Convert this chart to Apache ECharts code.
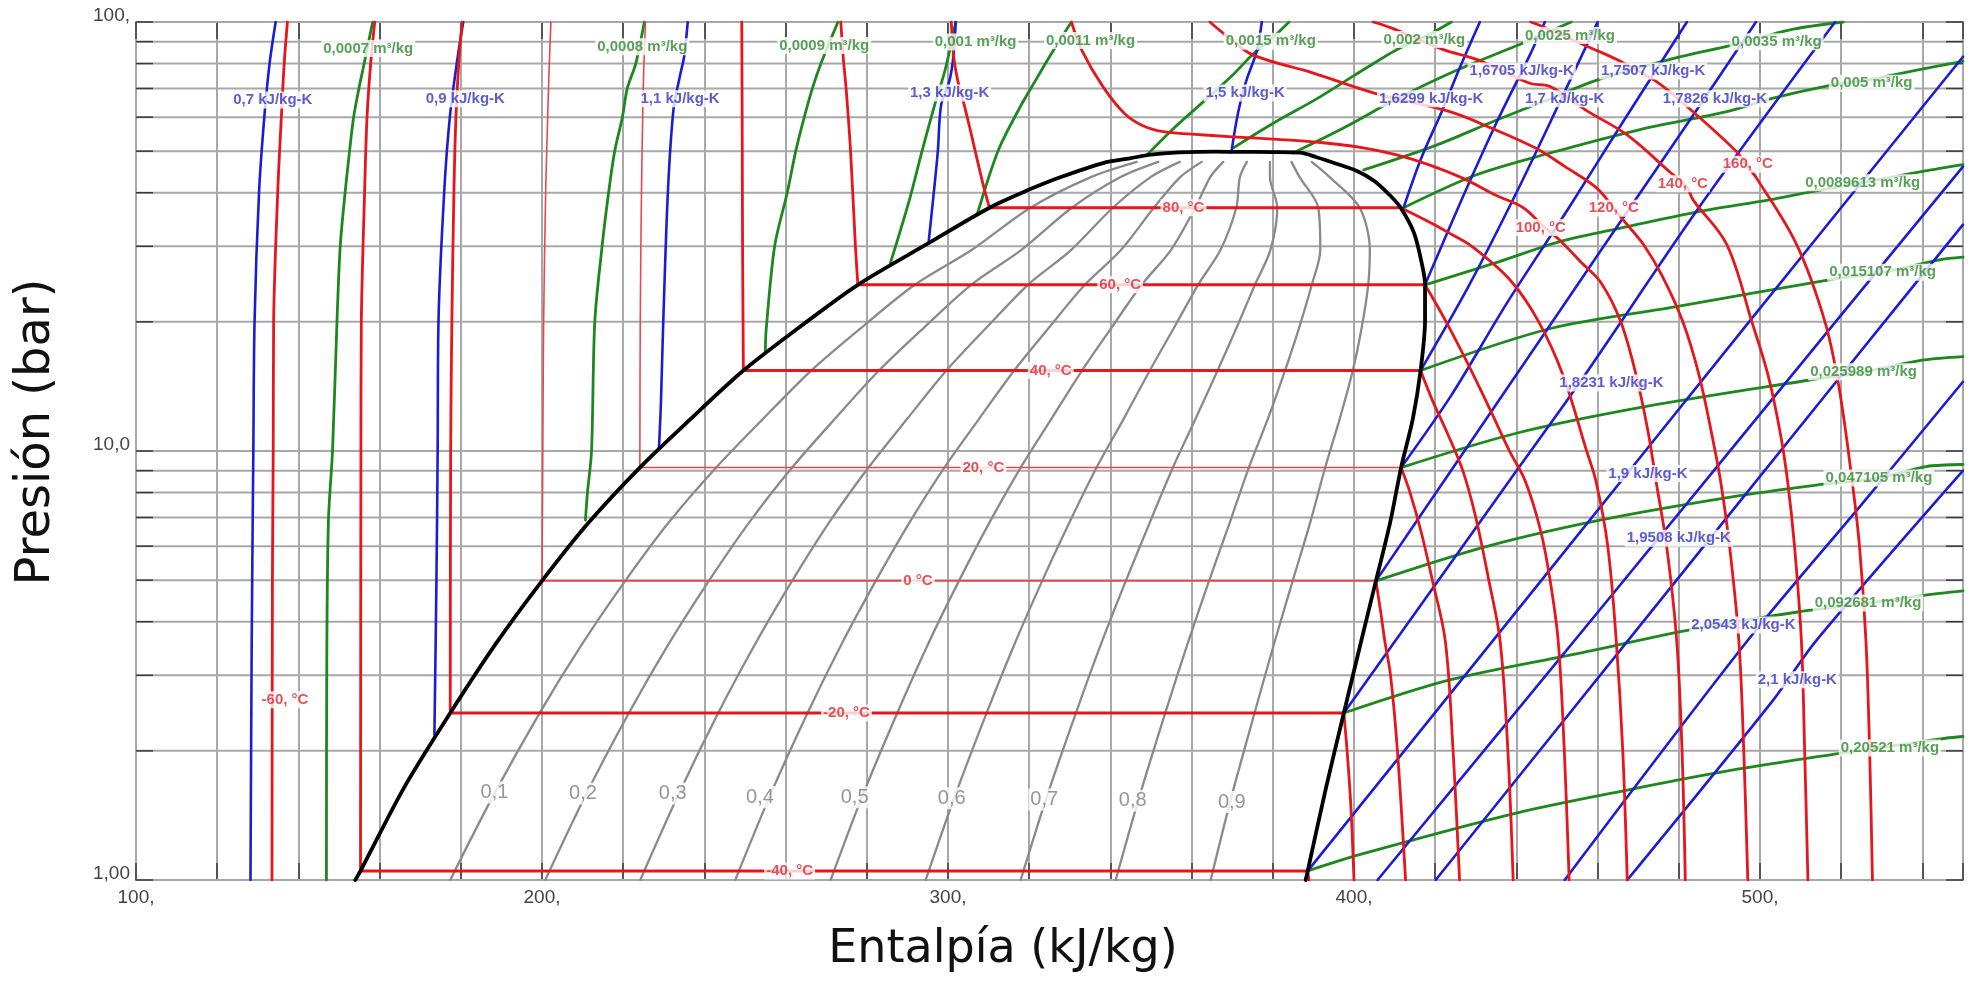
<!DOCTYPE html>
<html>
<head>
<meta charset="utf-8">
<script src="https://cdn.jsdelivr.net/npm/echarts/dist/echarts.min.js"></script>
<style>
html,body{margin:0;padding:0;background:#fff}
#chart{width:1975px;height:981px}
</style>
</head>
<body>
<div id="chart"></div>
<script>
// Pressure–enthalpy diagram of R22: h in kJ/kg, p in bar (log scale)

// axis ticks
const hMin = 100, hMax = 550, hStep = 20;
const pMajor = [1, 10, 100];
const pMajorText = ['1,00', '10,0', '100,'];
const pGrid = [1, 2, 3, 4, 5, 6, 7, 8, 9, 10, 20, 30, 40, 50, 60, 70, 80, 90, 100];

// saturation dome [h, p]
const satLiquid = [[154.0,1.0],[155.3,1.05],[166.0,1.64],[177.4,2.45],[188.6,3.55],[200.0,4.98],[211.5,6.81],[224.1,9.15],[236.7,11.9],[249.6,15.4],[263.3,19.4],[277.8,24.4],[295.2,30.5],[310.2,36.9],[319.0,40.3],[327.8,43.5],[338.2,46.9],[344.8,48.1],[350.0,49.1],[356.0,49.6],[362.0,49.8],[366.0,49.85]];
const satVapor = [[366.0,49.85],[372.0,49.8],[380.0,49.75],[386.7,49.6],[390.8,48.4],[395.5,46.8],[400.6,45.0],[405.0,42.6],[408.9,39.4],[411.5,36.9],[414.8,32.2],[416.9,26.8],[417.5,24.4],[417.5,20.2],[416.4,15.4],[414.5,11.9],[411.6,9.15],[408.9,6.81],[405.4,4.98],[401.6,3.55],[397.5,2.45],[393.1,1.64],[388.6,1.05],[388.1,1.0]];

// isotherms: compressed-liquid branch (top down to saturated liquid)
const isothermLiquid = [
  ['-60', [[137.3,100],[136.5,80],[135.8,60],[134.9,40],[133.9,20],[133.8,10],[133.6,5],[133.5,1]]],
  ['-40', [[158.8,100],[157.8,80],[156.9,60],[156.3,40],[155.5,20],[155.4,10],[155.3,1.05]]],
  ['-20', [[180.3,100],[179.5,80],[178.8,60],[178.3,40],[177.8,20],[177.5,10],[177.4,2.45]]],
  ['0',   [[202.2,100],[201.8,80],[201.4,60],[200.9,40],[200.4,20],[200.2,10],[200.0,4.98]]],
  ['20',  [[225.5,100],[225.1,80],[224.8,60],[224.5,40],[224.2,20],[224.1,9.15]]],
  ['40',  [[249.2,100],[249.3,60],[249.4,30],[249.6,15.4]]],
  ['60',  [[273.6,100],[274.2,82.5],[274.9,70],[276.0,50],[277.2,30],[277.8,24.4]]],
  ['80',  [[300.8,100],[301.4,83],[302.4,73],[304.0,64],[305.3,57],[306.7,50],[308.6,42],[310.2,36.9]]]
];
// isotherms: two-phase plateau [T, p, h liquid, h vapour]
const isothermSat = [['-40',1.05,155.3,388.6],['-20',2.45,177.4,397.5],['0',4.98,200.0,405.4],['20',9.15,224.1,411.6],['40',15.4,249.6,416.4],['60',24.4,277.8,417.5],['80',36.9,310.2,411.5]];
// isotherms: superheated / supercritical branch
const isothermVapor = [
  ['-40', [[388.6,1.05],[388.9,1.0]]],
  ['-20', [[397.5,2.45],[398.3,2.0],[399.2,1.5],[400.0,1.0]]],
  ['0',   [[405.4,4.98],[406.6,4.2],[407.6,3.6],[409.0,3.0],[410.7,2.0],[412.7,1.0]]],
  ['20',  [[411.6,9.15],[413.8,8.0],[416.5,6.5],[419.3,5.0],[422.5,3.6],[424.4,2.0],[426.0,1.0]]],
  ['40',  [[416.4,15.4],[419.5,13],[423.0,11],[426.8,9],[430.0,7],[433.2,5],[436.0,3.6],[437.9,2],[439.2,1]]],
  ['60',  [[417.5,24.4],[422.7,20],[428.0,16],[433.5,12.5],[438.3,10],[442.2,8.5],[446.0,6.5],[448.3,5],[450.3,3.6],[451.8,2],[453.0,1]]],
  ['80',  [[411.5,36.9],[419.0,34],[424.0,32],[429.0,30],[438.5,25],[445.5,20],[451.5,15],[457.3,10],[459.6,8.5],[462.5,6],[464.6,3.6],[466.2,2],[467.3,1]]],
  ['100', [[330.4,100],[333.0,85.8],[338.2,70.6],[343.4,61.3],[348.0,57.3],[353.0,55.5],[360.0,54.8],[370.0,54.0],[382.0,53.2],[392.4,52.3],[402.3,50.9],[410.5,49.0],[418.7,46.4],[426.9,43.2],[435.1,39.4],[441.7,36.9],[446.5,33.5],[451.0,30.8],[456.0,27.5],[460.8,24.7],[465.7,20],[469.5,15],[472.5,11],[474.4,8.5],[477.0,6],[479.5,3.6],[480.8,2],[481.6,1]]],
  ['120', [[364.5,100],[369.5,91.4],[375.2,83.7],[390.0,76.0],[405.6,68.0],[423.6,61.8],[434.0,56.5],[444.6,50.9],[452.0,46.0],[459.8,41.0],[463.9,36.9],[466.7,34.2],[471.3,30.3],[476.0,25.5],[481.0,20],[485.0,15],[488.5,10.5],[490.3,8.5],[492.5,6],[494.8,3.6],[496.0,2],[497.0,1]]],
  ['140', [[404.7,100],[409.0,97],[422.0,86.2],[430.2,81.8],[443.3,72.0],[448.3,70.7],[457.7,61.8],[467.2,54.6],[477.8,44.7],[482.0,41.2],[483.5,38.5],[491.8,30.3],[498.0,20],[502.0,15],[505.0,11],[506.8,8.5],[508.5,6],[510.2,3.6],[511.0,2],[511.8,1]]],
  ['160', [[443.5,100],[446.0,98],[458.5,86.9],[465.0,81.5],[474.5,72.6],[482.8,62.6],[494.2,49.9],[496.7,46.4],[499.2,43.2],[509.0,30.3],[516.0,20],[519.5,14],[522.7,8.5],[524.5,6],[526.1,3.6],[527.0,2],[527.7,1]]]
];
const thinIsotherms = ['0', '20'];

// lines of constant quality x = 0.1 ... 0.9
const qualityP = [1.0,1.56,2.45,3.55,4.98,6.81,9.15,11.9,15.4,19.4,24.4,29.4,36.9,43.5,47.2];
const qualityH = [
  [177.4,187.8,199.4,209.9,220.5,231.2,242.9,254.5,266.3,278.7,291.8,305.8,320.3,335.2,346.5],
  [200.8,210.5,221.4,231.2,241.1,251.0,261.6,272.2,283.0,294.1,305.7,318.0,330.5,342.5,351.8],
  [224.2,233.3,243.4,252.5,261.6,270.7,280.4,290.0,299.6,309.5,319.7,330.3,340.6,349.9,357.1],
  [247.6,256.0,265.4,273.8,282.2,290.5,299.1,307.7,316.3,324.9,333.7,342.6,350.7,357.2,362.5],
  [271.1,278.8,287.5,295.1,302.7,310.2,317.9,325.5,333.0,340.3,347.7,354.9,360.9,364.6,367.8],
  [294.5,301.6,309.5,316.4,323.2,329.9,336.6,343.3,349.7,355.7,361.6,367.1,371.0,371.9,373.6],
  [317.9,324.3,331.5,337.7,343.8,349.7,355.4,361.0,366.4,371.1,375.6,379.4,381.1,379.3,379.3],
  [341.3,347.1,353.5,359.0,364.3,369.4,374.1,378.8,383.0,386.5,389.6,391.7,391.2,386.6,384.6],
  [364.7,369.8,375.5,380.3,384.9,389.2,392.9,396.5,399.7,401.9,403.5,403.9,401.4,394.0,389.6]
];

// isentropes (blue)
const isentropes = [
  [[128.2,1],[128.5,3.6],[128.9,10],[129.2,20],[130.3,40],[131.6,60],[132.9,80],[134.4,100]],
  [[173.5,2.18],[174.0,5],[174.3,10],[174.5,20],[175.9,40],[177.3,60],[179.0,80],[180.6,100]],
  [[228.8,10.1],[229.3,13],[229.8,19.1],[231.0,40],[232.4,62.7],[234.0,75],[235.0,83],[235.9,100]],
  [[295.2,30.5],[296.5,40],[297.5,50],[298.3,64],[300.4,73.2],[301.4,84.3],[301.9,100]],
  [[369.8,49.7],[370.8,57],[371.9,64.2],[373.6,73.6],[376.0,85.2],[377.3,100]],
  [[412.2,36.9],[416.5,48],[421.6,61.8],[426.0,78],[431.0,100]],
  [[417.5,24.4],[426.5,38.5],[435.0,58],[443.3,83.7],[447.0,100]],
  [[416.4,15.4],[428.0,24],[440.0,40],[451.0,66],[460.0,100]],
  [[411.6,9.15],[424.0,13.5],[437.5,22],[453.0,37],[466.0,58],[482.0,100]],
  [[405.4,4.98],[427.2,10],[461.5,30],[483.2,60],[499.0,100]],
  [[397.5,2.45],[438.4,8.56],[455.5,14.4],[486.3,38.5],[518.5,100]],
  [[388.6,1.05],[446.2,5],[497.3,20],[550.0,83]],
  [[405.8,1],[465.0,4.8],[518.6,20],[550.0,46]],
  [[420.1,1],[470.3,3.9],[520.0,15],[550.0,33.7]],
  [[451.9,1],[497.0,3.62],[525.0,7.5],[550.0,14.5]],
  [[467.3,1],[503.3,2.63],[513.9,3.62],[550.0,9]]
];

// isochores (green)
const isochores = [
  [[146.9,1],[147.0,3.4],[147.4,6.9],[148.4,10],[149.5,20],[150.3,30],[151.5,40],[152.6,50],[153.6,60],[154.9,70],[156.2,80],[157.3,90],[158.3,100]],
  [[210.7,6.9],[211.2,8],[212.2,10],[213.0,20],[214.8,30],[216.4,40],[217.9,50],[219.8,60],[221.0,70],[223.1,80],[225.2,100]],
  [[255.0,17],[255.2,19.1],[257.3,30],[260.4,40],[262.5,50],[264.6,60],[266.6,70],[268.7,80],[272.9,100]],
  [[285.8,27.4],[290.5,38.5],[293.6,50],[296.7,64],[299.3,77.4],[301.9,100]],
  [[307.1,35.4],[312.3,50],[317.5,62.7],[321.6,73.2],[325.3,83.9],[330.4,100]],
  [[349.0,49],[356.0,57],[363.7,66.2],[370.0,75],[375.2,84.3],[380.0,92],[384.0,100]],
  [[370.3,50.9],[380.0,58],[390.8,66.2],[400.0,75],[410.5,86.2],[418.0,93],[424.0,100]],
  [[385.0,49.5],[398.0,57],[410.5,66.2],[425.0,77],[440.0,88],[447.0,94],[453.5,100]],
  [[402.4,45.2],[420.0,51.5],[435.0,59],[448.0,66],[459.8,73.2],[479.5,82.6],[492.6,88.1],[508.2,96.2],[520.5,100]],
  [[412.2,36.9],[430.0,44],[448.3,49.5],[470.0,56],[491.8,61.8],[502.5,66.2],[516.4,70.9],[527.1,73.5],[537.7,76.9],[550.0,81]],
  [[417.5,24.4],[435.6,27.6],[450.9,30.8],[466.4,33.2],[484.0,36],[502.3,38.5],[510.8,39.9],[525.0,42.2],[540.4,44.9],[550.0,46.5]],
  [[416.4,15.4],[448.4,19.3],[479.4,21.7],[516.3,25],[530.2,26.1],[544.2,27.9],[550.0,28.3]],
  [[411.6,9.15],[440.0,11],[472.0,12.7],[511.5,14.6],[525.5,15.3],[540.4,16.3],[550.0,16.6]],
  [[405.4,4.98],[432.3,5.98],[460.9,6.91],[492.7,7.81],[513.9,8.33],[529.3,8.65],[540.9,9.2],[550.0,9.3]],
  [[397.5,2.45],[423.8,2.93],[455.6,3.38],[482.1,3.82],[509.7,4.22],[526.6,4.42],[540.4,4.61],[550.0,4.72]],
  [[388.6,1.05],[402.0,1.15],[439.7,1.43],[467.3,1.62],[492.7,1.8],[519.2,1.97],[532.0,2.05],[545.7,2.14],[550.0,2.16]]
];

// inline curve labels [h, p, text]
const temperatureLabels = [
  [136.7,2.63,'-60, °C'],[261.0,1.05,'-40, °C'],[275.0,2.45,'-20, °C'],[292.6,4.98,'0 °C'],
  [308.7,9.15,'20, °C'],[325.3,15.4,'40, °C'],[342.4,24.4,'60, °C'],[358.0,36.9,'80, °C'],
  [446.0,33.2,'100, °C'],[464.0,36.8,'120, °C'],[481.0,42.0,'140, °C'],[497.0,46.6,'160, °C']
];
const qualityLabels = [
  [188.3,1.6,'0,1'],[210.1,1.59,'0,2'],[232.2,1.59,'0,3'],[253.7,1.56,'0,4'],[277.0,1.56,'0,5'],
  [300.9,1.55,'0,6'],[323.7,1.54,'0,7'],[345.5,1.53,'0,8'],[369.9,1.52,'0,9']
];
const entropyLabels = [
  [133.7,65.8,'0,7 kJ/kg-K'],[181.1,66.2,'0,9 kJ/kg-K'],[234.0,66.2,'1,1 kJ/kg-K'],[300.4,68.3,'1,3 kJ/kg-K'],
  [373.2,68.3,'1,5 kJ/kg-K'],[419.0,66.2,'1,6299 kJ/kg-K'],[441.3,76.9,'1,6705 kJ/kg-K'],[451.9,66.2,'1,7 kJ/kg-K'],
  [473.7,76.9,'1,7507 kJ/kg-K'],[488.9,66.2,'1,7826 kJ/kg-K'],[463.4,14.4,'1,8231 kJ/kg-K'],[472.4,8.86,'1,9 kJ/kg-K'],
  [480.0,6.26,'1,9508 kJ/kg-K'],[495.9,3.93,'2,0543 kJ/kg-K'],[509.2,2.93,'2,1 kJ/kg-K']
];
const volumeLabels = [
  [157.2,86.8,'0,0007 m³/kg'],[224.7,87.6,'0,0008 m³/kg'],[269.5,88.2,'0,0009 m³/kg'],[306.8,89.8,'0,001 m³/kg'],
  [335.1,90.6,'0,0011 m³/kg'],[379.5,90.2,'0,0015 m³/kg'],[417.3,91.0,'0,002 m³/kg'],[453.2,93.0,'0,0025 m³/kg'],
  [504.1,89.9,'0,0035 m³/kg'],[527.5,72.0,'0,005 m³/kg'],[525.3,42.2,'0,0089613 m³/kg'],[530.2,26.1,'0,015107 m³/kg'],
  [525.5,15.3,'0,025989 m³/kg'],[529.3,8.65,'0,047105 m³/kg'],[526.6,4.42,'0,092681 m³/kg'],[532.0,2.03,'0,20521 m³/kg']
];

// ---------- drawing ----------
const RED = '#e5161c', BLUE = '#1c1cd4', GREEN = '#1e871e', GRAY = '#8a8a8a';
const LABEL_FONT = '"Liberation Sans", Arial, sans-serif';
const TITLE_FONT = '"DejaVu Sans", Verdana, sans-serif';

function curve(points, color, width, z, smooth) {
  return {
    type: 'line', data: points, symbol: 'none', showSymbol: false, silent: true,
    smooth: smooth, z: z, clip: true,
    lineStyle: { color: color, width: width, cap: 'round', join: 'round' }
  };
}

function labels(items, color, size, weight) {
  return {
    type: 'scatter', silent: true, z: 30, symbolSize: 1,
    itemStyle: { color: 'rgba(0,0,0,0)' },
    data: items.map(d => ({ value: [d[0], d[1]], name: d[2] })),
    label: {
      show: true, position: 'inside', formatter: '{b}', color: color,
      fontSize: size, fontWeight: weight, fontFamily: LABEL_FONT,
      backgroundColor: '#fff', padding: [1, 2]
    }
  };
}

const series = [];

// horizontal grid lines with inward ticks on both sides
series.push({
  type: 'custom', coordinateSystem: 'cartesian2d', silent: true, z: 1,
  data: pGrid.map(p => [hMin, p]),
  renderItem: function (params, api) {
    const cs = params.coordSys;
    const y = api.coord([hMin, api.value(1)])[1];
    return {
      type: 'group', children: [
        { type: 'line', shape: { x1: cs.x, y1: y, x2: cs.x + cs.width, y2: y }, style: { stroke: '#a8a8a8', lineWidth: 2 } },
        { type: 'line', shape: { x1: cs.x, y1: y, x2: cs.x + 17, y2: y }, style: { stroke: '#3a3a3a', lineWidth: 1.5 } },
        { type: 'line', shape: { x1: cs.x + cs.width - 17, y1: y, x2: cs.x + cs.width, y2: y }, style: { stroke: '#3a3a3a', lineWidth: 1.5 } }
      ]
    };
  }
});

// quality lines
qualityH.forEach(row => {
  series.push(curve(row.map((h, i) => [h, qualityP[i]]), GRAY, 2.3, 3, 0.3));
});

// isochores and isentropes
isochores.forEach(c => series.push(curve(c, GREEN, 2.8, 4, 0.3)));
isentropes.forEach(c => series.push(curve(c, BLUE, 2.6, 5, 0.3)));

// isotherms
isothermLiquid.forEach(([t, pts]) => {
  const thin = thinIsotherms.includes(t);
  series.push(curve(pts, thin ? '#e8484c' : RED, thin ? 1.6 : 2.8, 6, 0.3));
});
isothermSat.forEach(([t, p, hl, hv]) => {
  const thin = thinIsotherms.includes(t);
  series.push(curve([[hl, p], [hv, p]], thin ? '#e8484c' : RED, thin ? 1.6 : 3, 6, false));
});
isothermVapor.forEach(([t, pts]) => series.push(curve(pts, RED, 2.8, 6, 0.35)));

// saturation dome
series.push(curve(satLiquid.concat(satVapor.slice(1)), '#000', 3.8, 8, 0.3));

// inline labels
series.push(labels(qualityLabels, '#7c7c7c', 20, 'normal'));
series.push(labels(volumeLabels, '#2f8a2f', 15, 'bold'));
series.push(labels(entropyLabels, '#3434c4', 15, 'bold'));
series.push(labels(temperatureLabels, '#e1262c', 15, 'bold'));

const axisLabelStyle = { fontSize: 19, color: '#444', fontFamily: LABEL_FONT };

const chart = echarts.init(document.getElementById('chart'), null, { renderer: 'canvas' });
chart.setOption({
  animation: false,
  backgroundColor: '#fff',
  grid: { left: 136, right: 12, top: 22, bottom: 101, show: true, borderColor: '#555', borderWidth: 1.5 },
  xAxis: [
    {
      type: 'value', min: hMin, max: hMax, interval: hStep, position: 'bottom',
      axisLine: { show: false },
      axisTick: { show: true, inside: true, length: 17, lineStyle: { color: '#3a3a3a', width: 1.5 } },
      axisLabel: Object.assign({ margin: 8, formatter: v => (v % 100 === 0 ? v + ',' : '') }, axisLabelStyle),
      splitLine: { show: true, lineStyle: { color: '#a8a8a8', width: 2 } }
    },
    {
      type: 'value', min: hMin, max: hMax, interval: hStep, position: 'top',
      axisLine: { show: false },
      axisTick: { show: true, inside: true, length: 17, lineStyle: { color: '#3a3a3a', width: 1.5 } },
      axisLabel: { show: false }, splitLine: { show: false }
    }
  ],
  yAxis: {
    type: 'log', logBase: 10, min: 1, max: 100,
    axisLine: { show: false }, axisTick: { show: false }, splitLine: { show: false },
    axisLabel: Object.assign({
      margin: 6, verticalAlign: 'bottom', lineHeight: 12,
      formatter: v => { const i = pMajor.indexOf(Math.round(v)); return i >= 0 ? pMajorText[i] : ''; }
    }, axisLabelStyle)
  },
  graphic: [
    { type: 'text', x: 1003, y: 950, silent: true,
      style: { text: 'Entalpía (kJ/kg)', fontSize: 46, fontFamily: TITLE_FONT, fill: '#111', align: 'center', verticalAlign: 'middle' } },
    { type: 'text', x: 37, y: 432, rotation: Math.PI / 2, silent: true,
      style: { text: 'Presión (bar)', fontSize: 48, fontFamily: TITLE_FONT, fill: '#111', align: 'center', verticalAlign: 'middle' } }
  ],
  series: series
});
</script>
</body>
</html>
